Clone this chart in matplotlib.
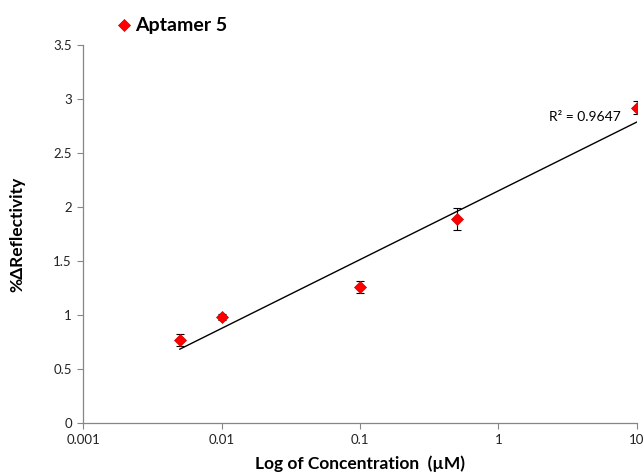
import numpy as np
import matplotlib
matplotlib.use("Agg")
import matplotlib.pyplot as plt

plt.rcParams['font.family'] = ['Lato', 'DejaVu Sans']

# data
conc = [0.005, 0.01, 0.1, 0.5, 10]
refl = [0.77, 0.98, 1.26, 1.89, 2.92]
err = [0.055, 0.03, 0.055, 0.10, 0.06]
r2_text = "R² = 0.9647"

fig = plt.figure(figsize=(6.44, 4.75), dpi=100)
ax = fig.add_axes([0.129, 0.1095, 0.860, 0.7955])

ax.errorbar(conc, refl, yerr=err, fmt='none', ecolor='black', elinewidth=0.8,
            capsize=3, capthick=0.8, zorder=2)
ax.plot(conc, refl, linestyle='none', marker='D', markersize=6.5,
        markerfacecolor='red', markeredgecolor='#d00000', markeredgewidth=0.5,
        zorder=3, label='Aptamer 5')

# logarithmic trend line
a, b = np.polyfit(np.log(conc), refl, 1)
xs = np.array([min(conc), max(conc)])
ax.plot(xs, a * np.log(xs) + b, color='black', linewidth=1.0, zorder=1)
ax.text(7.6, 2.83, r2_text, ha='right', va='center', fontsize=10)

ax.set_xscale('log')
ax.set_xlim(0.001, 10)
ax.set_ylim(0, 3.5)
ax.set_xticks([0.001, 0.01, 0.1, 1, 10])
ax.set_xticklabels(['0.001', '0.01', '0.1', '1', '10'])
ax.xaxis.set_minor_locator(matplotlib.ticker.NullLocator())
ax.set_yticks(np.arange(0, 3.51, 0.5))
ax.set_yticklabels(['0', '0.5', '1', '1.5', '2', '2.5', '3', '3.5'])

for s in ['top', 'right']:
    ax.spines[s].set_visible(False)
for s in ['left', 'bottom']:
    ax.spines[s].set_color('#868686')
    ax.spines[s].set_linewidth(0.9)
ax.tick_params(axis='both', direction='out', length=4, color='#868686',
               labelsize=9.5, labelcolor='#222222', pad=4)

ax.set_xlabel('Log of Concentration  (µM)', fontsize=12.5, fontweight='bold',
              labelpad=7)
ax.set_ylabel('%ΔReflectivity', fontsize=12.5, fontweight='bold', labelpad=20)

fig.legend(loc='upper left', bbox_to_anchor=(0.15, 1.0), frameon=False,
           prop={'size': 14, 'weight': 'bold'}, handletextpad=0.1,
           markerscale=0.9, handlelength=1.0)

fig.savefig('out.png', dpi=100, facecolor='white')
